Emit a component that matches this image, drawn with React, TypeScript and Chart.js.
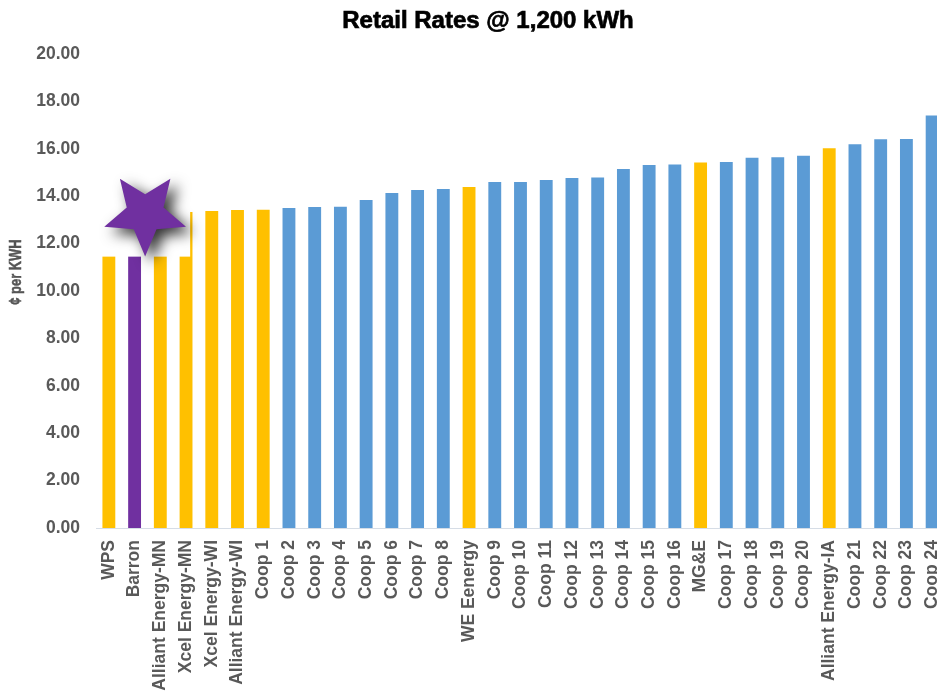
import React, { useEffect, useRef } from 'react';
import { Chart, registerables } from 'chart.js';

Chart.register(...registerables);

const TITLE = 'Retail Rates @ 1,200 kWh';
const Y_TITLE = '¢ per KWH';

const categories = [
  'WPS', 'Barron', 'Alliant Energy-MN', 'Xcel Energy-MN', 'Xcel Energy-WI', 'Alliant Energy-WI',
  'Coop 1', 'Coop 2', 'Coop 3', 'Coop 4', 'Coop 5', 'Coop 6', 'Coop 7', 'Coop 8',
  'WE Eenergy',
  'Coop 9', 'Coop 10', 'Coop 11', 'Coop 12', 'Coop 13', 'Coop 14', 'Coop 15', 'Coop 16',
  'MG&E',
  'Coop 17', 'Coop 18', 'Coop 19', 'Coop 20',
  'Alliant Energy-IA',
  'Coop 21', 'Coop 22', 'Coop 23', 'Coop 24',
];

const rates = [
  12.9, 13.1, 13.25, 13.33, 13.38, 13.42,
  13.43, 13.5, 13.54, 13.55, 13.84, 14.13, 14.26, 14.3,
  14.39,
  14.6, 14.6, 14.68, 14.77, 14.79, 15.15, 15.32, 15.34,
  15.42,
  15.44, 15.62, 15.64, 15.71,
  16.02,
  16.19, 16.4, 16.41, 17.4,
];

// group of each category: 'iou' (investor-owned), 'coop', 'barron'
const groups = [
  'iou', 'barron', 'iou', 'iou', 'iou', 'iou',
  'iou', 'coop', 'coop', 'coop', 'coop', 'coop', 'coop', 'coop',
  'iou',
  'coop', 'coop', 'coop', 'coop', 'coop', 'coop', 'coop', 'coop',
  'iou',
  'coop', 'coop', 'coop', 'coop',
  'iou',
  'coop', 'coop', 'coop', 'coop',
];

const groupColors: Record<string, string> = {
  iou: '#FFC000',
  coop: '#5B9BD5',
  barron: '#7030A0',
};

// star call-out (in axis units: category index, rate)
const STAR_BOX_X = [-0.28, 3.16];
const STAR_BOX_Y = [11.45, 15.0];
const STAR_CENTER = [1.41, 13.27];
const Y_TITLE_AT = 10.8;

const LABEL_COLOR = '#595959';
const TICK_FONT = { family: '"Liberation Sans", Arial, sans-serif', size: 17.5, weight: 'bold' as const };

const overlayPlugin = {
  id: 'overlay',
  afterDatasetsDraw(chart: any) {
    const { ctx, scales } = chart;
    const x = scales.x;
    const y = scales.y;
    const step = x.getPixelForValue(1) - x.getPixelForValue(0);
    const bx0 = x.getPixelForValue(STAR_BOX_X[0]);
    const bx1 = x.getPixelForValue(STAR_BOX_X[1]);
    const by0 = y.getPixelForValue(STAR_BOX_Y[1]);
    const by1 = y.getPixelForValue(STAR_BOX_Y[0]);
    ctx.save();
    ctx.fillStyle = '#ffffff';
    ctx.fillRect(bx0, by0, bx1 - bx0, by1 - by0);
    const cx = x.getPixelForValue(STAR_CENTER[0]);
    const cy = y.getPixelForValue(STAR_CENTER[1]);
    const outer = step * 1.67;
    const inner = outer * 0.45;
    ctx.beginPath();
    for (let i = 0; i < 10; i++) {
      const a = ((36 + i * 36) * Math.PI) / 180;
      const r = i % 2 === 0 ? outer : inner;
      const px = cx + r * Math.sin(a);
      const py = cy - r * Math.cos(a);
      if (i === 0) ctx.moveTo(px, py);
      else ctx.lineTo(px, py);
    }
    ctx.closePath();
    ctx.shadowColor = 'rgba(0,0,0,0.8)';
    ctx.shadowBlur = 14;
    ctx.shadowOffsetX = 7;
    ctx.shadowOffsetY = 6;
    ctx.fillStyle = '#7030A0';
    ctx.fill();
    ctx.restore();
  },
  afterDraw(chart: any) {
    const { ctx, scales } = chart;
    ctx.save();
    // chart title
    ctx.font = 'bold 24px "Liberation Sans", Arial, sans-serif';
    ctx.textAlign = 'center';
    ctx.textBaseline = 'alphabetic';
    ctx.fillStyle = '#000000';
    ctx.strokeStyle = '#000000';
    ctx.lineWidth = 0.7;
    ctx.fillText(TITLE, chart.width / 2, 28);
    ctx.strokeText(TITLE, chart.width / 2, 28);
    // y axis title
    const ty = scales.y.getPixelForValue(Y_TITLE_AT);
    ctx.translate(16, ty);
    ctx.rotate(-Math.PI / 2);
    ctx.scale(0.76, 1);
    ctx.font = 'bold 17px "Liberation Sans", Arial, sans-serif';
    ctx.textAlign = 'center';
    ctx.textBaseline = 'middle';
    ctx.fillStyle = '#555555';
    ctx.strokeStyle = '#555555';
    ctx.lineWidth = 0.5;
    ctx.fillText(Y_TITLE, 0, 0);
    ctx.strokeText(Y_TITLE, 0, 0);
    ctx.restore();
  },
};

export default function App() {
  const canvasRef = useRef<HTMLCanvasElement | null>(null);

  useEffect(() => {
    if (!canvasRef.current) return;
    const chart = new Chart(canvasRef.current, {
      type: 'bar',
      data: {
        labels: categories,
        datasets: [
          {
            data: rates,
            backgroundColor: groups.map((g) => groupColors[g]),
            barPercentage: 0.5,
            categoryPercentage: 1,
          },
        ],
      },
      options: {
        animation: false,
        responsive: true,
        maintainAspectRatio: false,
        layout: { padding: { top: 54, right: 31, left: 0, bottom: 0 } },
        plugins: {
          legend: { display: false },
          title: { display: false },
          tooltip: { enabled: false },
        },
        scales: {
          x: {
            grid: { display: false, drawTicks: false },
            border: { display: true, color: '#d6dde6', dash: [2, 2] },
            ticks: {
              autoSkip: false,
              maxRotation: 90,
              minRotation: 90,
              padding: 12,
              color: LABEL_COLOR,
              font: TICK_FONT,
            },
            afterFit: (s: any) => {
              s.height = 168;
            },
          },
          y: {
            min: 0,
            max: 20,
            grid: { display: false, drawTicks: false },
            border: { display: false },
            ticks: {
              stepSize: 2,
              padding: 16,
              color: LABEL_COLOR,
              font: TICK_FONT,
              callback: (v: any) => Number(v).toFixed(2),
            },
            afterFit: (s: any) => {
              s.width = 96;
            },
          },
        },
      },
      plugins: [overlayPlugin],
    });
    return () => chart.destroy();
  }, []);

  return (
    <div
      style={{
        position: 'fixed',
        left: 0,
        top: 0,
        width: 937,
        height: 696,
        overflow: 'hidden',
        background: '#ffffff',
      }}
    >
      <div style={{ position: 'relative', width: 976, height: 696 }}>
        <canvas ref={canvasRef} />
      </div>
    </div>
  );
}
